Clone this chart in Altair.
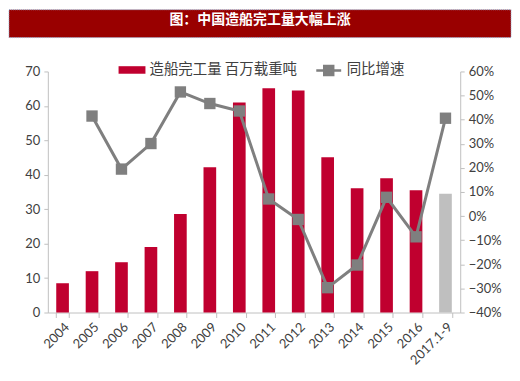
import altair as alt
import pandas as pd

title_text = "图：中国造船完工量大幅上涨"
years = ["2004", "2005", "2006", "2007", "2008", "2009", "2010", "2011",
         "2012", "2013", "2014", "2015", "2016", "2017.1-9"]
output = [8.5, 12.0, 14.6, 19.0, 28.6, 42.2, 61.0, 65.1, 64.5, 45.1, 36.1, 39.0, 35.5, 34.5]
growth_pct = [None, 41.5, 19.5, 30.1, 51.5, 46.7, 43.6, 7.1, -1.4, -29.7, -20.3, 7.8, -8.6, 40.6]
s_bar = "造船完工量 百万载重吨"
s_line = "同比增速"

df = pd.DataFrame({
    "year": years,
    "output": output,
    "growth": [None if g is None else g / 100 for g in growth_pct],
    "s1": s_bar,
    "s2": s_line,
})

LAT = "Lato"
CJK = "Noto Sans CJK SC"
RED = "#C0002F"

xenc = alt.X("year:N", sort=years,
             scale=alt.Scale(paddingInner=0.57, paddingOuter=0.285),
             axis=alt.Axis(title=None, labelAngle=-45, tickBand="extent", labelFont=LAT,
                           labelFontSize=13, labelColor="#404040", domainColor="#BFBFBF",
                           tickColor="#BFBFBF", tickSize=5, labelPadding=3))

yleft = alt.Y("output:Q", scale=alt.Scale(domain=[0, 70], nice=False),
              axis=alt.Axis(title=None, values=list(range(0, 71, 10)), grid=False,
                            labelFont=LAT, labelFontSize=13, labelColor="#404040",
                            domainColor="#BFBFBF", tickColor="#BFBFBF", tickSize=4,
                            labelPadding=4))

base = alt.Chart(df)

bars = base.transform_filter(alt.datum.year != "2017.1-9").mark_bar().encode(
    x=xenc,
    y=yleft,
    color=alt.Color("s1:N", scale=alt.Scale(range=[RED]),
                    legend=alt.Legend(title=None, orient="none", legendX=71, legendY=-15,
                                      symbolType="M-1,-0.28H1V0.28H-1Z", symbolSize=729,
                                      symbolStrokeWidth=0, labelFont=CJK, labelFontSize=14.5,
                                      labelColor="#404040", padding=0, labelOffset=4)),
)

bar17 = base.transform_filter(alt.datum.year == "2017.1-9").mark_bar(color="#BFBFBF").encode(
    x=xenc, y=yleft,
)

yright = alt.Y("growth:Q", scale=alt.Scale(domain=[-0.4, 0.6], nice=False),
               axis=alt.Axis(title=None, orient="right", format=".0%",
                             values=[-0.4, -0.3, -0.2, -0.1, 0, 0.1, 0.2, 0.3, 0.4, 0.5, 0.6],
                             grid=False, labelFont=LAT, labelFontSize=13, labelColor="#404040",
                             domainColor="#BFBFBF", tickColor="#BFBFBF", tickSize=4,
                             labelPadding=4))

line = base.mark_line(strokeWidth=3, point=alt.OverlayMarkDef(shape="square", size=130, filled=True, opacity=1)).encode(
    x=xenc,
    y=yright,
    color=alt.Color("s2:N", scale=alt.Scale(range=["#7F7F7F"]),
                    legend=alt.Legend(title=None, orient="none", legendX=268, legendY=-15,
                                      symbolType="M-1,0H1M-0.36,-0.36H0.36V0.36H-0.36Z",
                                      symbolSize=625, symbolStrokeWidth=2.5,
                                      labelFont=CJK, labelFontSize=14.5, labelColor="#404040",
                                      padding=0, labelOffset=4)),
)

bar_layer = alt.layer(bars, bar17)

hdr = alt.Chart(pd.DataFrame({"t": [title_text]}))
banner = hdr.mark_rect(color="#990000", stroke="#8FA3C8", strokeDash=[1, 1], strokeWidth=1).encode(
    x=alt.value(-39), x2=alt.value(465), y=alt.value(-62), y2=alt.value(-34)
)
banner_text = hdr.mark_text(color="white", fontSize=14, fontWeight="bold", font=CJK,
                            align="center", baseline="middle").encode(
    text="t:N", x=alt.value(213), y=alt.value(-52)
)

chart = alt.layer(bar_layer, line, banner, banner_text).resolve_scale(
    y="independent", color="independent"
).resolve_legend(color="independent").properties(
    width=414, height=242, padding=0, background="white"
).configure_view(stroke=None)

chart.save("out.html", embed_options={"renderer": "svg", "actions": False})
